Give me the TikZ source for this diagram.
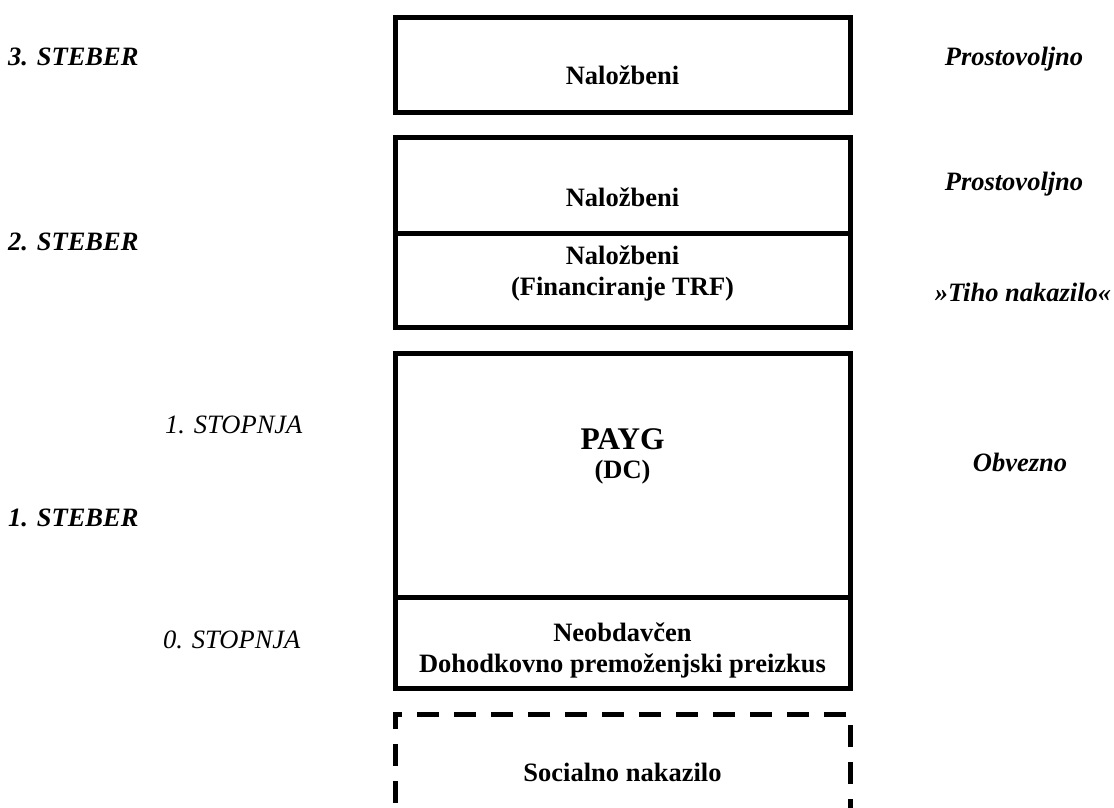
\documentclass[tikz,border=0pt]{standalone}
\usepackage{fontspec}
\setmainfont{Liberation Serif}
\begin{document}
\begin{tikzpicture}[x=1pt,y=-1pt,
  boxstyle/.style={draw=black, line width=5pt, rectangle, minimum width=455pt, inner sep=0pt},
  dashbox/.style={boxstyle, dash pattern=on 22pt off 15pt},
  txt/.style={inner sep=0pt, anchor=base, font=\fontsize{26.5}{31}\selectfont\bfseries},
  big/.style={inner sep=0pt, anchor=base, font=\fontsize{31.5}{36}\selectfont\bfseries},
  lbl/.style={inner sep=0pt, anchor=base west, font=\fontsize{26.5}{31}\selectfont\bfseries\itshape},
  stp/.style={inner sep=0pt, anchor=base west, font=\fontsize{26.5}{31}\selectfont\itshape},
  rlbl/.style={inner sep=0pt, anchor=base, font=\fontsize{26.5}{31}\selectfont\bfseries\itshape}]
\useasboundingbox (0,0) rectangle (1114,807);
% boxes
\node[boxstyle, minimum height=95pt] (b3) at (622.5,64.5) {};
\node[boxstyle, minimum height=96pt] (b2a) at (622.5,185) {};
\node[boxstyle, minimum height=94pt] (b2b) at (622.5,280) {};
\node[boxstyle, minimum height=244pt] (b1) at (622.5,475) {};
\node[boxstyle, minimum height=91pt] (b0) at (622.5,642.5) {};
\node[dashbox, minimum height=96pt] (bs) at (622.5,762) {};
% box texts
\node[txt] (t3) at (622.5,84) {Naložbeni};
\node[txt] (t2a) at (622.5,206) {Naložbeni};
\node[txt] (t2b1) at (622.5,264) {Naložbeni};
\node[txt] (t2b2) at (622.5,295) {(Financiranje TRF)};
\node[big] (t1a) at (622.5,449) {PAYG};
\node[txt] (t1b) at (622.5,478) {(DC)};
\node[txt] (t0a) at (622.5,641) {Neobdavčen};
\node[txt] (t0b) at (622.5,672) {Dohodkovno premoženjski preizkus};
\node[txt] (ts) at (622.5,781) {Socialno nakazilo};
% left labels
\node[lbl] (s3) at (8,65) {3. STEBER};
\node[lbl] (s2) at (8,250) {2. STEBER};
\node[lbl] (s1) at (8,526) {1. STEBER};
\node[stp] (p1) at (165,433) {1. STOPNJA};
\node[stp] (p0) at (163,648) {0. STOPNJA};
% right labels
\node[rlbl] (r3) at (1014,65) {Prostovoljno};
\node[rlbl] (r2a) at (1014,190) {Prostovoljno};
\node[rlbl] (r2b) at (1023,301) {»Tiho nakazilo«};
\node[rlbl] (r1) at (1020,471) {Obvezno};
\end{tikzpicture}
\end{document}
